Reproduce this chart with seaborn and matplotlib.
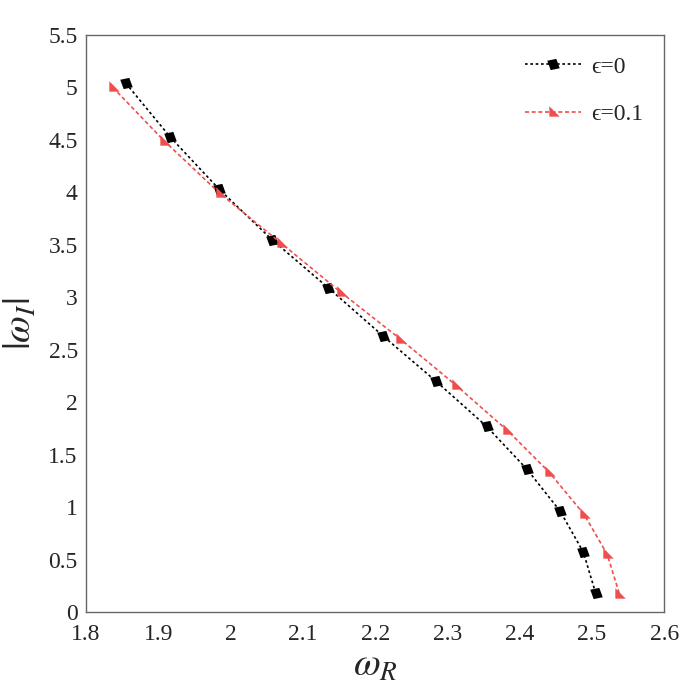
import matplotlib
matplotlib.use('Agg')
import matplotlib.pyplot as plt
import seaborn as sns
import pandas as pd

# eps = 0
wr_0 = [1.855, 1.916, 1.984, 2.057, 2.135, 2.211, 2.284, 2.354, 2.410, 2.456, 2.488, 2.505]
wi_0 = [5.04, 4.53, 4.03, 3.55, 3.09, 2.63, 2.20, 1.77, 1.36, 0.96, 0.57, 0.18]
# eps = 0.1
wr_1 = [1.837, 1.908, 1.985, 2.069, 2.152, 2.235, 2.312, 2.383, 2.441, 2.489, 2.521, 2.538]
wi_1 = [5.00, 4.49, 3.99, 3.52, 3.05, 2.60, 2.16, 1.73, 1.33, 0.93, 0.55, 0.17]
labels = ['\u03f5=0', '\u03f5=0.1']

xticks = [1.8, 1.9, 2.0, 2.1, 2.2, 2.3, 2.4, 2.5, 2.6]
xticklabels = ['1.8', '1.9', '2', '2.1', '2.2', '2.3', '2.4', '2.5', '2.6']
yticks = [0, 0.5, 1, 1.5, 2, 2.5, 3, 3.5, 4, 4.5, 5, 5.5]
yticklabels = ['0', '0.5', '1', '1.5', '2', '2.5', '3', '3.5', '4', '4.5', '5', '5.5']

sns.set_style('white')
plt.rcParams['font.family'] = ['Liberation Serif', 'DejaVu Serif']
plt.rcParams['mathtext.fontset'] = 'stix'

df = pd.concat([
    pd.DataFrame({'wr': wr_0, 'wi': wi_0, 'case': labels[0]}),
    pd.DataFrame({'wr': wr_1, 'wi': wi_1, 'case': labels[1]}),
], ignore_index=True)

para = [(-0.45, -0.9), (1.0, -0.6), (0.45, 0.9), (-1.0, 0.6), (-0.45, -0.9)]
tri = [(-0.6, -0.6), (0.9, -0.6), (-0.6, 0.9), (-0.6, -0.6)]

fig = plt.figure(figsize=(7, 6.99), dpi=100)
ax = fig.add_axes([0.123, 0.1245, 0.826, 0.8255])

sns.lineplot(data=df, x='wr', y='wi', hue='case', style='case', sort=False,
             palette={labels[0]: 'black', labels[1]: '#f04e4e'},
             markers={labels[0]: para, labels[1]: tri},
             dashes={labels[0]: (1.6, 1.6), labels[1]: (2.4, 1.6)},
             markersize=9, markeredgewidth=0, linewidth=1.2, ax=ax)

ax.set_xlim(1.8, 2.6)
ax.set_ylim(0, 5.5)
ax.set_xticks(xticks)
ax.set_xticklabels(xticklabels)
ax.set_yticks(yticks)
ax.set_yticklabels(yticklabels)
ax.tick_params(direction='in', length=5, width=0.8, color='#555555', labelsize=17,
               top=False, right=False)
ax.tick_params(axis='x', pad=9)
ax.tick_params(axis='y', pad=6)
for s in ax.spines.values():
    s.set_color('#666666')
    s.set_linewidth(1.0)

ax.set_xlabel(r'$\omega_R$', fontsize=28, labelpad=2)
ax.set_ylabel(r'$|\omega_I|$', fontsize=28, labelpad=6)

leg = ax.legend(loc='upper right', frameon=False, fontsize=17, handlelength=2.4,
                handletextpad=0.4, labelspacing=1.1, borderaxespad=0.5)
leg.set_title(None)

fig.savefig('out.png', dpi=100)
